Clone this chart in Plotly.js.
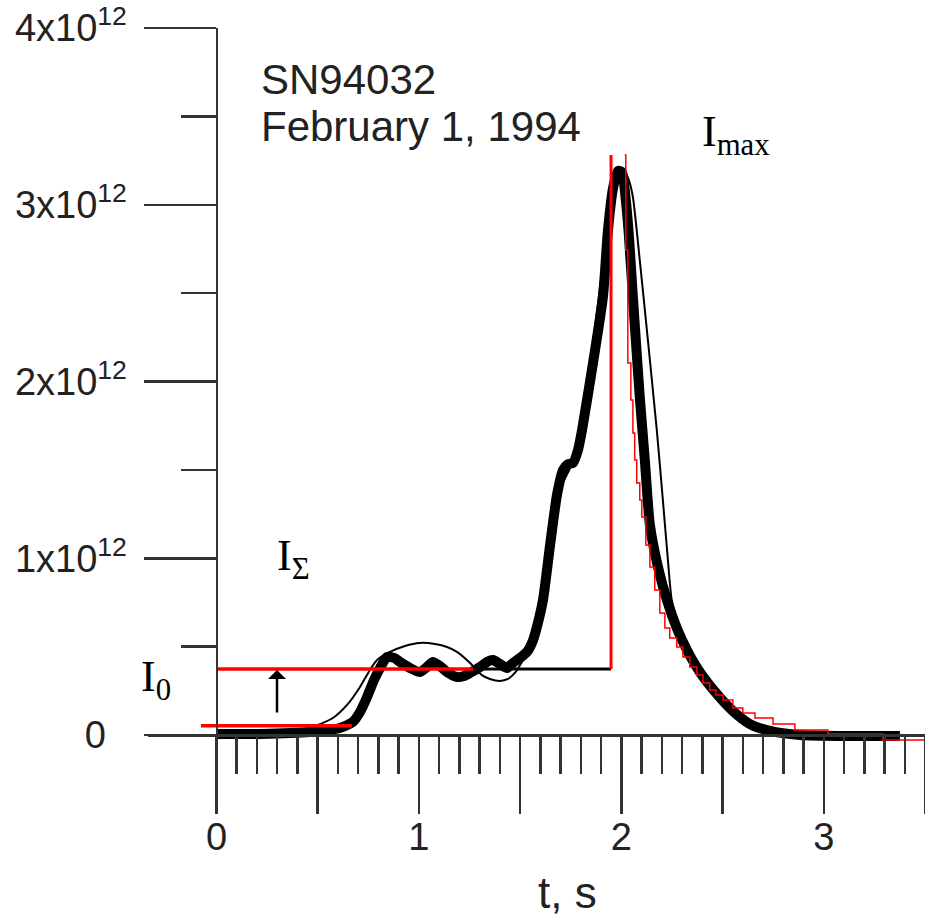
<!DOCTYPE html>
<html>
<head>
<meta charset="utf-8">
<script src="https://cdn.plot.ly/plotly-3.0.1.min.js"></script>
<style>html,body{margin:0;padding:0;background:#fff;}#chart{width:925px;height:921px;}</style>
</head>
<body>
<div id="chart"></div>
<script>
// ---- DATA (time t in s, intensity I in units of 1e12) ----
const thickT = [0.00,0.215,0.462,0.610,0.674,0.709,0.744,0.778,0.808,0.842,0.877,0.907,0.956,1.005,1.040,1.069,1.104,1.139,1.188,1.223,1.252,1.302,1.336,1.366,1.400,1.435,1.464,1.499,1.534,1.564,1.589,1.613,1.648,1.682,1.712,1.737,1.761,1.786,1.806,1.860,1.909,1.934,1.959,1.983,2.003,2.022,2.037,2.057,2.091,2.116,2.141,2.181,2.225,2.274,2.324,2.388,2.472,2.551,2.635,2.734,2.882,3.129,3.376];
const thickI = [0.006,0.006,0.017,0.040,0.074,0.130,0.215,0.311,0.379,0.441,0.436,0.413,0.379,0.356,0.385,0.413,0.390,0.356,0.328,0.334,0.351,0.385,0.413,0.424,0.402,0.379,0.407,0.436,0.470,0.537,0.639,0.764,1.075,1.358,1.499,1.533,1.539,1.613,1.726,2.105,2.478,2.857,3.095,3.191,3.185,3.027,2.829,2.478,1.912,1.556,1.188,0.950,0.764,0.605,0.481,0.356,0.232,0.136,0.062,0.023,0.000,-0.006,-0.006];

const thinT = [0.00,0.314,0.462,0.575,0.645,0.709,0.758,0.793,0.857,0.931,1.005,1.079,1.139,1.188,1.237,1.277,1.311,1.351,1.400,1.440,1.474,1.509,1.534,1.564,1.599,1.633,1.672,1.707,1.747,1.786,1.826,1.865,1.905,1.939,1.964,1.988,2.013,2.037,2.057,2.091,2.131,2.175,2.205,2.230,2.249,2.289,2.338,2.412,2.487,2.561,2.660,2.783,2.980,3.227];
const thinI = [0.006,0.017,0.040,0.096,0.170,0.272,0.368,0.424,0.470,0.504,0.521,0.515,0.498,0.470,0.424,0.379,0.339,0.317,0.306,0.317,0.351,0.413,0.453,0.526,0.679,0.934,1.245,1.414,1.511,1.641,1.924,2.263,2.631,2.970,3.140,3.208,3.196,3.140,3.044,2.687,2.235,1.726,1.330,0.990,0.764,0.605,0.470,0.322,0.209,0.119,0.045,0.011,0.000,-0.006];

const stepT = [2.017,2.022,2.032,2.047,2.057,2.066,2.076,2.091,2.101,2.121,2.141,2.165,2.190,2.215,2.239,2.274,2.304,2.338,2.373,2.403,2.437,2.467,2.502,2.551,2.600,2.660,2.749,2.857,3.020,3.292,3.500];
const stepI = [3.281,2.744,2.105,1.895,1.709,1.556,1.426,1.330,1.233,1.075,0.950,0.820,0.690,0.605,0.549,0.498,0.441,0.385,0.339,0.294,0.255,0.226,0.198,0.153,0.124,0.096,0.062,0.028,0.006,-0.028,-0.028];

// reference levels
const iSigmaLevel = 0.3734;   // I_Sigma level
const iSigmaRedEnd = 1.267;   // end of red part of I_Sigma line
const tMaxMark = 1.949;       // vertical marker time
const iMaxMark = 3.281;       // top of vertical marker
const i0Level = 0.0526;       // I_0 level
const i0Start = -0.0766, i0End = 0.669;
const arrowT = 0.299, arrowFrom = 0.119, arrowTo = 0.368;

// ticks and tick labels
const xTickVals = [0,0.5,1,1.5,2,2.5,3,3.5];
const xTickText = ['0','','1','','2','','3',''];
const xMinorVals = [0.1,0.2,0.3,0.4,0.6,0.7,0.8,0.9,1.1,1.2,1.3,1.4,1.6,1.7,1.8,1.9,2.1,2.2,2.3,2.4,2.6,2.7,2.8,2.9,3.1,3.2,3.3,3.4];
const yTickVals = [0,1,2,3,4];
const yTickText = ['0\u00a0\u00a0','1x10<sup>12</sup>','2x10<sup>12</sup>','3x10<sup>12</sup>','4x10<sup>12</sup>'];
const yMinorVals = [0.5,1.5,2.5,3.5];

// ---- LAYOUT helpers (pixel -> paper) ----
const L = 148, R = 925, T = 28, B = 760;
const px = x => (x - L) / (R - L);
const py = y => (B - y) / (B - T);
const xRange = [-0.3383, 3.5];

const traces = [
  {x: thinT, y: thinI, mode: 'lines', line: {color: '#000', width: 2, shape: 'spline', smoothing: 0.6}, hoverinfo: 'skip'},
  {x: thickT, y: thickI, mode: 'lines', line: {color: '#000', width: 10, shape: 'spline', smoothing: 0.6}, hoverinfo: 'skip'},
  {x: [iSigmaRedEnd, tMaxMark], y: [iSigmaLevel, iSigmaLevel], mode: 'lines', line: {color: '#000', width: 3}, hoverinfo: 'skip'},
  {x: [0, iSigmaRedEnd], y: [iSigmaLevel, iSigmaLevel], mode: 'lines', line: {color: '#ff0000', width: 3.5}, hoverinfo: 'skip'},
  {x: [tMaxMark, tMaxMark], y: [iSigmaLevel, iMaxMark], mode: 'lines', line: {color: '#ff0000', width: 3}, hoverinfo: 'skip'},
  {x: [i0Start, i0End], y: [i0Level, i0Level], mode: 'lines', line: {color: '#ff0000', width: 3.5}, hoverinfo: 'skip'},
  {x: stepT, y: stepI, mode: 'lines', line: {color: '#ff0000', width: 1.5, shape: 'hv'}, hoverinfo: 'skip'}
];

const sans = 'Liberation Sans, Arial, sans-serif';
const serif = 'Liberation Serif, Times New Roman, serif';
const axCol = '#333';

const layout = {
  width: 925, height: 921,
  margin: {l: L, r: 925 - R, t: T, b: 921 - B, pad: 0},
  paper_bgcolor: '#fff', plot_bgcolor: '#fff',
  showlegend: false,
  xaxis: {
    range: xRange, anchor: 'free', position: py(735),
    showline: true, linecolor: axCol, linewidth: 2.5,
    showgrid: false, zeroline: false,
    ticks: 'outside', ticklen: 77, tickwidth: 2.5, tickcolor: axCol,
    tickmode: 'array', tickvals: xTickVals, ticktext: xTickText,
    tickfont: {family: sans, size: 38, color: '#222'},
    ticklabelstandoff: -9,
    minor: {tickmode: 'array', tickvals: xMinorVals, ticks: 'outside', ticklen: 37, tickwidth: 2.5, tickcolor: axCol, showgrid: false}
  },
  yaxis: {
    range: [-0.14144, 4], anchor: 'free', position: px(216.5),
    showline: true, linecolor: axCol, linewidth: 2.5,
    showgrid: false, zeroline: false,
    ticks: 'outside', ticklen: 72, tickwidth: 2.5, tickcolor: axCol,
    tickmode: 'array', tickvals: yTickVals, ticktext: yTickText,
    tickfont: {family: sans, size: 38, color: '#222'},
    ticklabelstandoff: 9,
    minor: {tickmode: 'array', tickvals: yMinorVals, ticks: 'outside', ticklen: 35, tickwidth: 2.5, tickcolor: axCol, showgrid: false}
  },
  annotations: [
    {text: 'SN94032', xref: 'paper', yref: 'paper', x: px(259), y: py(79), xanchor: 'left', yanchor: 'middle', showarrow: false, font: {family: sans, size: 42, color: '#222'}},
    {text: 'February 1, 1994', xref: 'paper', yref: 'paper', x: px(259), y: py(127), xanchor: 'left', yanchor: 'middle', showarrow: false, font: {family: sans, size: 42, color: '#222'}},
    {text: 'I<sub>max</sub>', xref: 'paper', yref: 'paper', x: px(700), y: py(134), xanchor: 'left', yanchor: 'middle', showarrow: false, font: {family: serif, size: 44, color: '#000'}},
    {text: 'I<sub>Σ</sub>', xref: 'paper', yref: 'paper', x: px(275), y: py(558), xanchor: 'left', yanchor: 'middle', showarrow: false, font: {family: serif, size: 44, color: '#000'}},
    {text: 'I<sub>0</sub>', xref: 'paper', yref: 'paper', x: px(139), y: py(679), xanchor: 'left', yanchor: 'middle', showarrow: false, font: {family: serif, size: 44, color: '#000'}},
    {text: 't, s', xref: 'paper', yref: 'paper', x: px(567), y: py(892), xanchor: 'center', yanchor: 'middle', showarrow: false, font: {family: sans, size: 44, color: '#222'}},
    {text: '', x: arrowT, y: arrowTo, ax: arrowT, ay: arrowFrom, xref: 'x', yref: 'y', axref: 'x', ayref: 'y',
     showarrow: true, arrowhead: 1, arrowsize: 1.2, arrowwidth: 2.5, arrowcolor: '#000', standoff: 0}
  ]
};

Plotly.newPlot('chart', traces, layout, {displayModeBar: false, staticPlot: true});
</script>
</body>
</html>
